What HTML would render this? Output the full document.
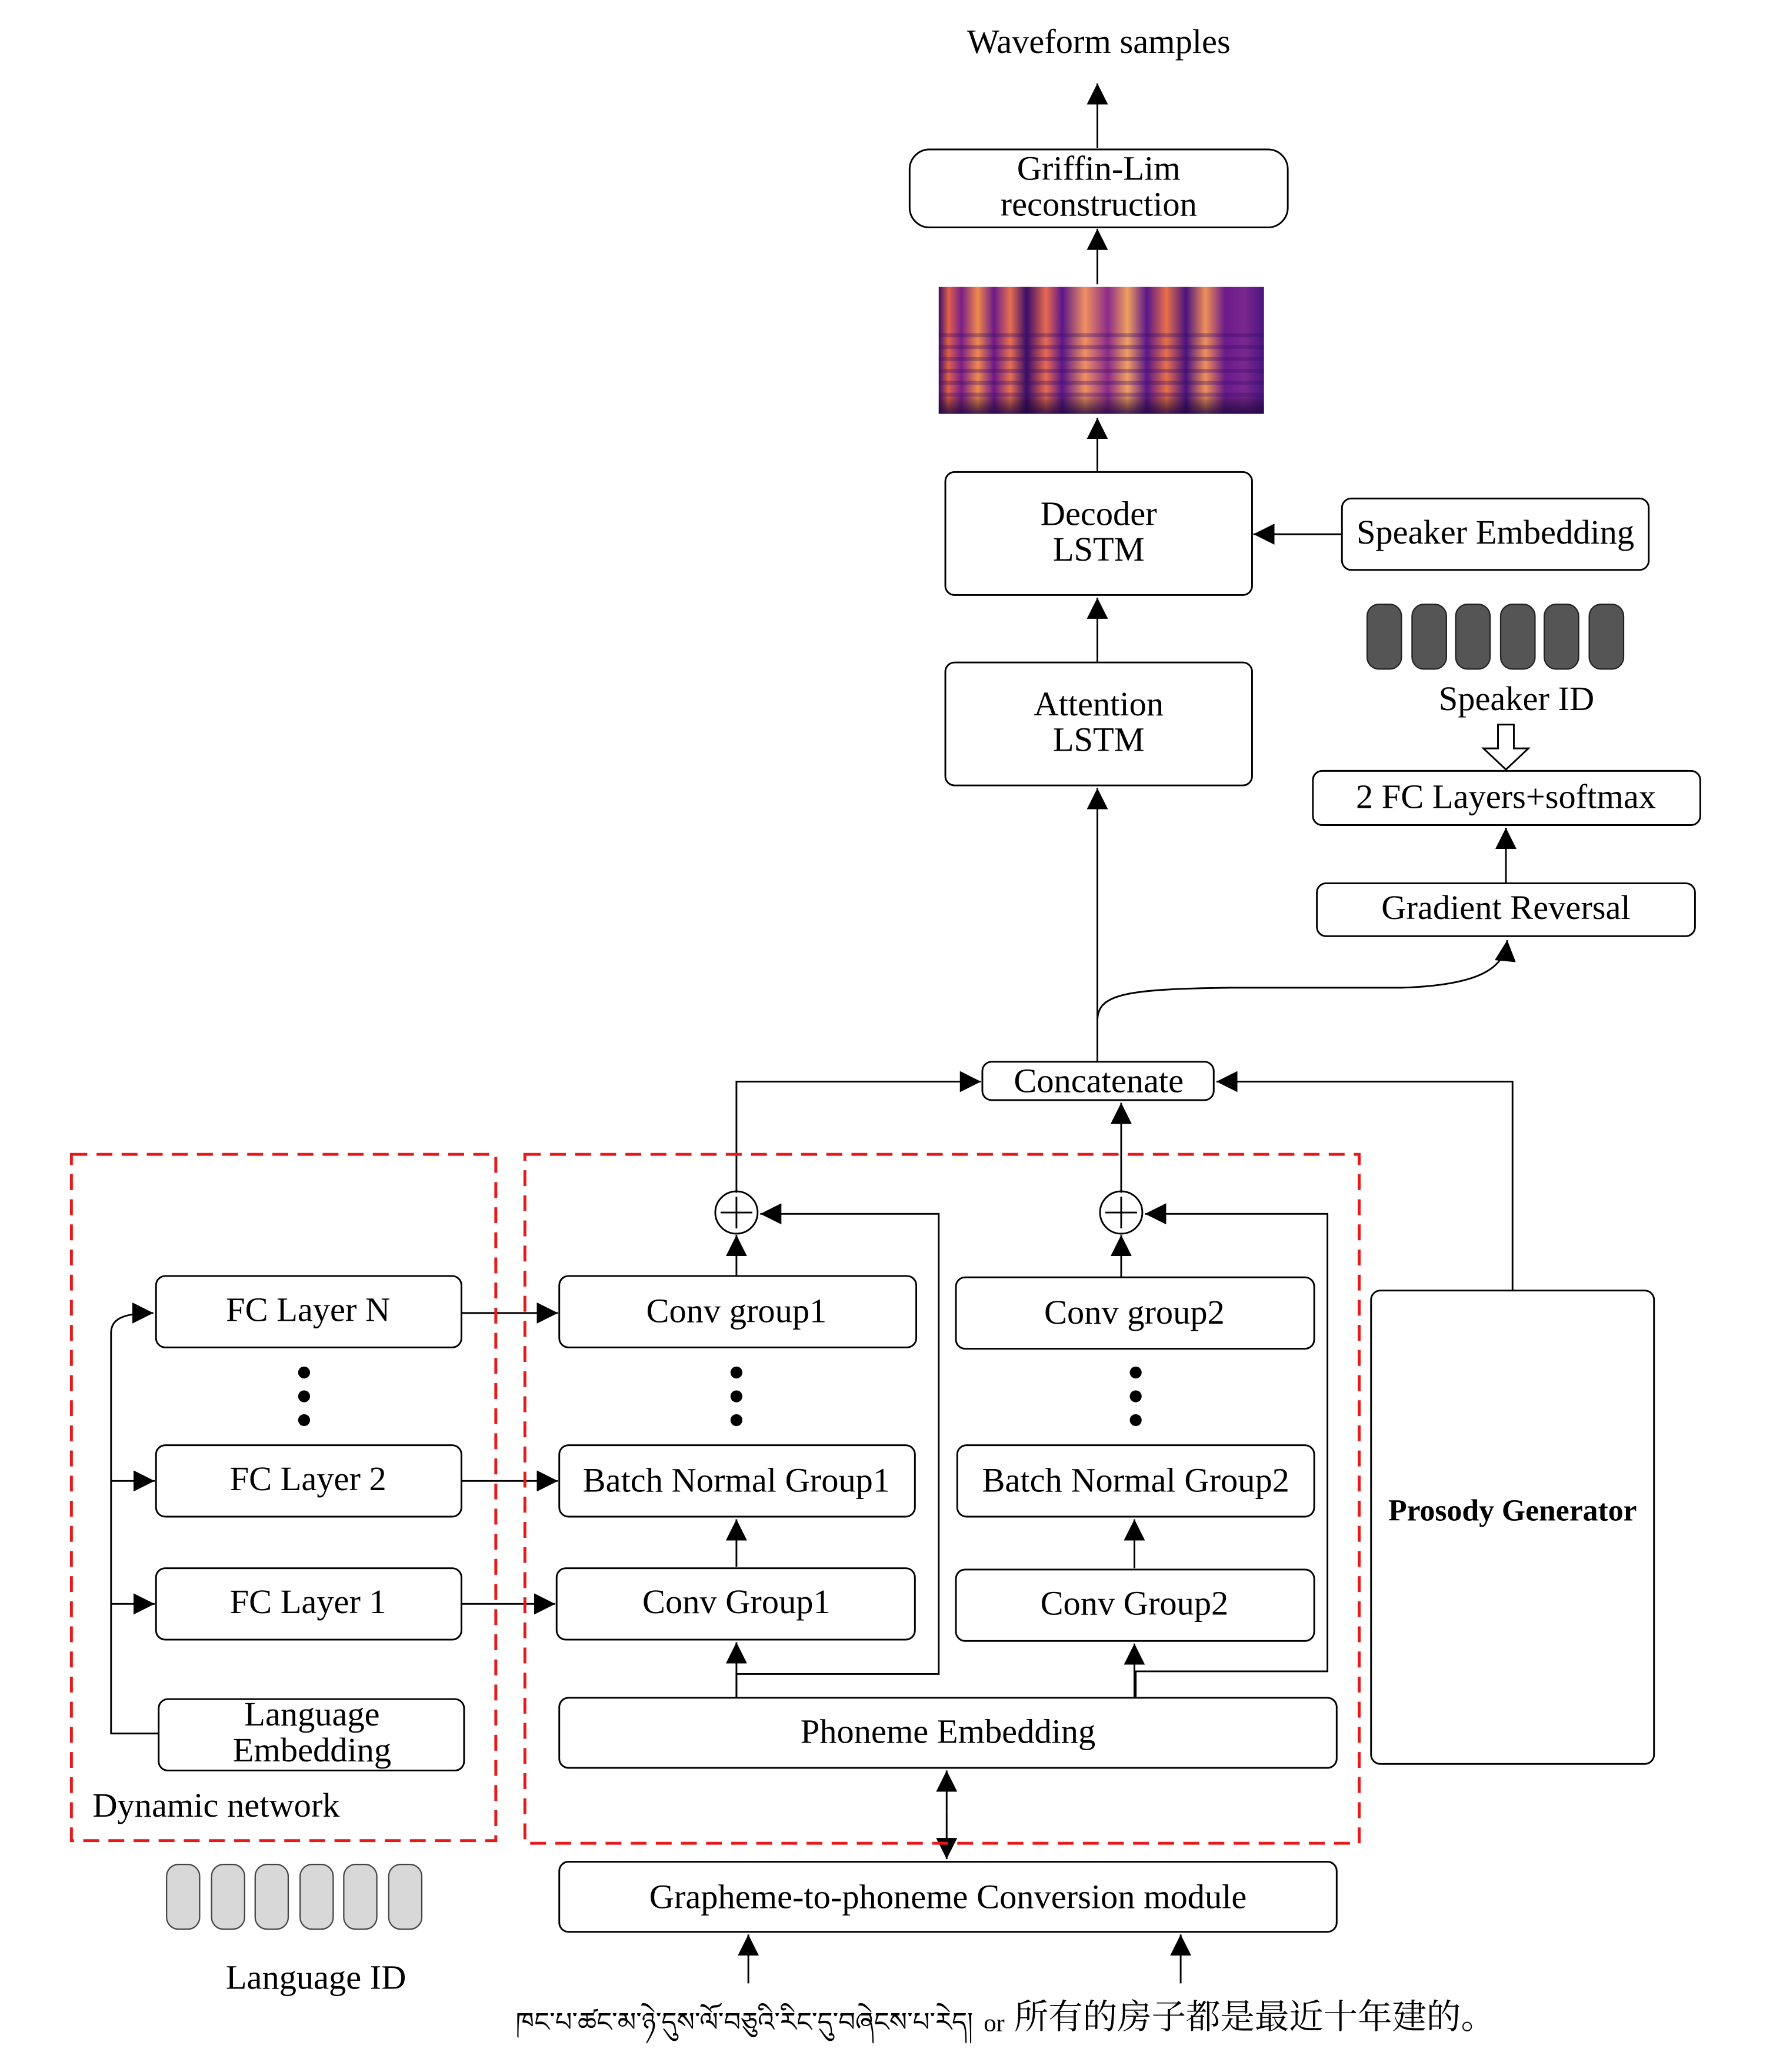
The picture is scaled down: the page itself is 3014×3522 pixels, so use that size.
<!DOCTYPE html>
<html><head><meta charset="utf-8"><style>
html,body{margin:0;padding:0;background:#fff;}
svg{display:block;}
text{font-family:"Liberation Serif","Noto Serif CJK SC","Noto Sans CJK SC",serif;fill:#000;}
</style></head><body>
<svg width="3014" height="3522" viewBox="0 0 1341 1567" preserveAspectRatio="none" xmlns="http://www.w3.org/2000/svg">
<defs>
<marker id="a" viewBox="0 0 10 10" refX="10" refY="5" markerWidth="16" markerHeight="16" markerUnits="userSpaceOnUse" orient="auto"><path d="M0,0 L10,5 L0,10 z" fill="#000"/></marker>
<linearGradient id="sg" x1="0" y1="0" x2="1" y2="0">
<stop offset="0" stop-color="#3a0c6a"/><stop offset="0.03" stop-color="#e0604a"/><stop offset="0.07" stop-color="#7a1f8a"/><stop offset="0.12" stop-color="#f08a4a"/><stop offset="0.17" stop-color="#6a1a8a"/><stop offset="0.22" stop-color="#e87050"/><stop offset="0.27" stop-color="#3a0c6a"/><stop offset="0.33" stop-color="#e86a50"/><stop offset="0.38" stop-color="#5a168a"/><stop offset="0.45" stop-color="#f09060"/><stop offset="0.52" stop-color="#8a2a8a"/><stop offset="0.58" stop-color="#f0a060"/><stop offset="0.64" stop-color="#5a168a"/><stop offset="0.7" stop-color="#e8704a"/><stop offset="0.76" stop-color="#4a1280"/><stop offset="0.82" stop-color="#f09058"/><stop offset="0.88" stop-color="#6a1a8a"/><stop offset="0.94" stop-color="#7a2890"/><stop offset="1" stop-color="#4a1480"/>
</linearGradient>
<linearGradient id="sv" x1="0" y1="0" x2="0" y2="1">
<stop offset="0" stop-color="#000" stop-opacity="0"/><stop offset="0.85" stop-color="#000" stop-opacity="0"/><stop offset="1" stop-color="#20054a" stop-opacity="0.8"/>
</linearGradient>
<pattern id="hp" width="8" height="9" patternUnits="userSpaceOnUse"><rect width="8" height="3" fill="#3a0c6a" opacity="0.35"/></pattern>
</defs>
<g fill="none" stroke="#000" stroke-width="1.3">
<line x1="830" y1="112" x2="830" y2="63" marker-end="url(#a)"/>
<rect x="688" y="113" width="286" height="59" rx="15" fill="#fff"/>
<line x1="830" y1="215" x2="830" y2="173" marker-end="url(#a)"/>
<line x1="830" y1="357" x2="830" y2="316" marker-end="url(#a)"/>
<rect x="715" y="357" width="232" height="93" rx="7"/>
<rect x="1015" y="377" width="232" height="54" rx="7"/>
<line x1="1015" y1="404" x2="948" y2="404" marker-end="url(#a)"/>
<line x1="830" y1="501" x2="830" y2="452" marker-end="url(#a)"/>
<rect x="715" y="501" width="232" height="93" rx="7"/>
<path d="M1133,548 H1145 V566 H1156 L1139,582 L1122,566 H1133 Z"/>
<rect x="993" y="583" width="293" height="41" rx="7"/>
<line x1="1139" y1="668" x2="1139" y2="626" marker-end="url(#a)"/>
<rect x="996" y="668" width="286" height="40" rx="7"/>
<line x1="830" y1="803" x2="830" y2="596" marker-end="url(#a)"/>
<path d="M830,772 C830,752 850,748 930,747 L1060,747 C1120,745 1138,732 1140,711" marker-end="url(#a)"/>
<rect x="743" y="803" width="175" height="29" rx="7"/>
<path d="M557,902 V818 H742" marker-end="url(#a)"/>
<line x1="848" y1="902" x2="848" y2="834" marker-end="url(#a)"/>
<path d="M1144,976 V818 H920" marker-end="url(#a)"/>
<circle cx="557" cy="917" r="16"/><line x1="545" y1="917" x2="569" y2="917"/><line x1="557" y1="905" x2="557" y2="929"/>
<circle cx="848" cy="917" r="16"/><line x1="836" y1="917" x2="860" y2="917"/><line x1="848" y1="905" x2="848" y2="929"/>
<line x1="557" y1="965" x2="557" y2="934" marker-end="url(#a)"/>
<line x1="848" y1="966" x2="848" y2="934" marker-end="url(#a)"/>
<path d="M557,1284 V1266 H710 V918 H575" marker-end="url(#a)"/>
<path d="M859,1284 V1264 H1004 V918 H866" marker-end="url(#a)"/>
<rect x="423" y="965" width="270" height="54" rx="7"/>
<rect x="723" y="966" width="271" height="54" rx="7"/>
<rect x="423" y="1093" width="269" height="54" rx="7"/>
<rect x="724" y="1093" width="270" height="54" rx="7"/>
<line x1="557" y1="1185" x2="557" y2="1149" marker-end="url(#a)"/>
<line x1="858" y1="1186" x2="858" y2="1149" marker-end="url(#a)"/>
<rect x="421" y="1186" width="271" height="54" rx="7"/>
<rect x="723" y="1187" width="271" height="54" rx="7"/>
<line x1="557" y1="1284" x2="557" y2="1242" marker-end="url(#a)"/>
<line x1="858" y1="1284" x2="858" y2="1243" marker-end="url(#a)"/>
<rect x="423" y="1284" width="588" height="53" rx="7"/>
<line x1="716" y1="1370" x2="716" y2="1339" marker-end="url(#a)"/>
<line x1="716" y1="1370" x2="716" y2="1406" marker-end="url(#a)"/>
<rect x="423" y="1408" width="588" height="53" rx="7"/>
<line x1="566" y1="1500" x2="566" y2="1463" marker-end="url(#a)"/>
<line x1="893" y1="1500" x2="893" y2="1463" marker-end="url(#a)"/>
<rect x="1037" y="976" width="214" height="358" rx="7"/>
<rect x="118" y="965" width="231" height="54" rx="7"/>
<rect x="118" y="1093" width="231" height="54" rx="7"/>
<rect x="118" y="1186" width="231" height="54" rx="7"/>
<rect x="120" y="1285" width="231" height="54" rx="7"/>
<path d="M120,1311 H84 V1008 C84,998 92,993 116,993" marker-end="url(#a)"/>
<line x1="84" y1="1120" x2="117" y2="1120" marker-end="url(#a)"/>
<line x1="84" y1="1213" x2="117" y2="1213" marker-end="url(#a)"/>
<line x1="349" y1="993" x2="422" y2="993" marker-end="url(#a)"/>
<line x1="349" y1="1120" x2="422" y2="1120" marker-end="url(#a)"/>
<line x1="349" y1="1213" x2="420" y2="1213" marker-end="url(#a)"/>
</g>
<g fill="none" stroke="#e8191a" stroke-width="2.2" stroke-dasharray="12,7">
<rect x="54" y="873" width="321" height="519"/>
<rect x="397" y="873" width="631" height="521"/>
</g>
<rect x="710" y="217" width="246" height="96" fill="url(#sg)"/>
<rect x="710" y="250" width="246" height="55" fill="url(#hp)"/>
<rect x="710" y="217" width="246" height="96" fill="url(#sv)"/>
<g fill="#000">
<circle cx="557" cy="1038" r="4.5"/><circle cx="557" cy="1056" r="4.5"/><circle cx="557" cy="1074" r="4.5"/>
<circle cx="859" cy="1038" r="4.5"/><circle cx="859" cy="1056" r="4.5"/><circle cx="859" cy="1074" r="4.5"/>
<circle cx="230" cy="1038" r="4.5"/><circle cx="230" cy="1056" r="4.5"/><circle cx="230" cy="1074" r="4.5"/>
</g>
<g fill="#555" stroke="#222" stroke-width="1">
<rect x="1034" y="457" width="26" height="49" rx="9"/><rect x="1068" y="457" width="26" height="49" rx="9"/><rect x="1101" y="457" width="26" height="49" rx="9"/><rect x="1135" y="457" width="26" height="49" rx="9"/><rect x="1168" y="457" width="26" height="49" rx="9"/><rect x="1202" y="457" width="26" height="49" rx="9"/>
</g>
<g fill="#d8d8d8" stroke="#444" stroke-width="1">
<rect x="126" y="1410" width="25" height="49" rx="9"/><rect x="160" y="1410" width="25" height="49" rx="9"/><rect x="193" y="1410" width="25" height="49" rx="9"/><rect x="227" y="1410" width="25" height="49" rx="9"/><rect x="260" y="1410" width="25" height="49" rx="9"/><rect x="294" y="1410" width="25" height="49" rx="9"/>
</g>
<g font-size="26" text-anchor="middle">
<text x="831" y="40">Waveform samples</text>
<text x="831" y="136">Griffin-Lim</text>
<text x="831" y="163">reconstruction</text>
<text x="831" y="397">Decoder</text>
<text x="831" y="424">LSTM</text>
<text x="1131" y="411">Speaker Embedding</text>
<text x="1147" y="537">Speaker ID</text>
<text x="831" y="541">Attention</text>
<text x="831" y="568">LSTM</text>
<text x="1139" y="611">2 FC Layers+softmax</text>
<text x="1139" y="695">Gradient Reversal</text>
<text x="831" y="826">Concatenate</text>
<text x="557" y="1000">Conv group1</text>
<text x="858" y="1001">Conv group2</text>
<text x="557" y="1128">Batch Normal Group1</text>
<text x="859" y="1128">Batch Normal Group2</text>
<text x="557" y="1220">Conv Group1</text>
<text x="858" y="1221">Conv Group2</text>
<text x="717" y="1318">Phoneme Embedding</text>
<text x="717" y="1443">Grapheme-to-phoneme Conversion module</text>
<text x="233" y="999">FC Layer N</text>
<text x="233" y="1127">FC Layer 2</text>
<text x="233" y="1220">FC Layer 1</text>
<text x="236" y="1305">Language</text>
<text x="236" y="1332">Embedding</text>
<text x="239" y="1504">Language ID</text>
<text x="1144" y="1150" font-weight="bold" font-size="23">Prosody Generator</text>
</g>
<text x="70" y="1374" font-size="26">Dynamic network</text>
<text x="390" y="1536" font-size="20" textLength="346" lengthAdjust="spacingAndGlyphs" font-family="'Noto Serif Tibetan','Jomolhari','Liberation Serif',serif">ཁང་པ་ཚང་མ་ཉེ་དུས་ལོ་བཅུའི་རིང་དུ་བཞེངས་པ་རེད།</text>
<text x="744" y="1536" font-size="19">or</text>
<text x="767" y="1534" font-size="26">所有的房子都是最近十年建的。</text>
</svg>
</body></html>
